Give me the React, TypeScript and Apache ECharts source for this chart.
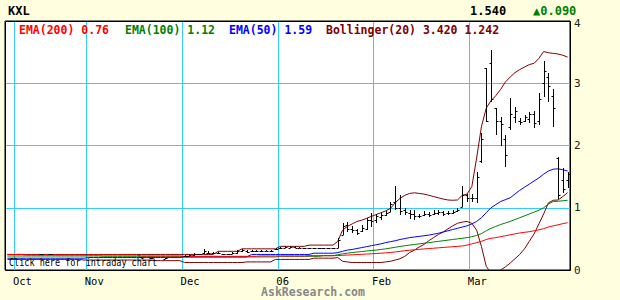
import React, { useEffect, useRef } from "react";
import * as echarts from "echarts";

const N = 118;
const days: string[] = Array.from({ length: N }, (_, i) => String(i));
const monthStarts = [2, 17, 37, 57, 77, 97];
const monthNames = ["Oct", "Nov", "Dec", "06", "Feb", "Mar"];
const yTicks = [0, 1, 2, 3, 4];

const ema200 = [
  0.25,0.25,0.25,0.25,0.24,0.24,0.24,0.24,0.24,0.24,
  0.24,0.24,0.24,0.24,0.24,0.24,0.24,0.24,0.24,0.24,
  0.24,0.24,0.24,0.24,0.24,0.24,0.24,0.24,0.225,0.225,
  0.225,0.225,0.225,0.225,0.225,0.225,0.225,0.22,0.22,0.22,
  0.22,0.22,0.22,0.22,0.22,0.22,0.22,0.22,0.22,0.22,
  0.22,0.22,0.22,0.225,0.225,0.225,0.225,0.225,0.225,0.225,
  0.225,0.225,0.225,0.23,0.23,0.23,0.23,0.23,0.23,0.232,
  0.236,0.24,0.244,0.248,0.252,0.256,0.26,0.265,0.27,0.276,
  0.282,0.29,0.3,0.31,0.318,0.325,0.332,0.338,0.345,0.35,
  0.356,0.362,0.368,0.374,0.38,0.386,0.4,0.42,0.44,0.46,
  0.49,0.51,0.52,0.535,0.55,0.565,0.58,0.595,0.605,0.615,
  0.63,0.645,0.665,0.69,0.71,0.725,0.745,0.76,
];

const ema100 = [
  0.225,0.225,0.225,0.225,0.225,0.225,0.225,0.225,0.225,0.225,
  0.225,0.225,0.225,0.225,0.225,0.225,0.225,0.225,0.225,0.225,
  0.22,0.22,0.22,0.22,0.22,0.22,0.22,0.22,0.22,0.22,
  0.22,0.22,0.22,0.22,0.22,0.22,0.22,0.21,0.21,0.21,
  0.21,0.21,0.21,0.21,0.21,0.21,0.21,0.21,0.21,0.21,
  0.21,0.21,0.21,0.21,0.21,0.21,0.21,0.22,0.22,0.22,
  0.22,0.22,0.22,0.22,0.22,0.22,0.23,0.23,0.23,0.245,
  0.26,0.27,0.28,0.288,0.296,0.305,0.313,0.32,0.33,0.34,
  0.352,0.365,0.378,0.39,0.4,0.41,0.42,0.43,0.44,0.45,
  0.46,0.47,0.48,0.49,0.5,0.51,0.52,0.535,0.555,0.585,
  0.63,0.67,0.7,0.73,0.755,0.78,0.81,0.84,0.87,0.9,
  0.93,0.96,1.0,1.06,1.1,1.105,1.112,1.12,
];

const ema50 = [
  0.19,0.19,0.19,0.19,0.19,0.19,0.19,0.19,0.19,0.19,
  0.19,0.19,0.19,0.19,0.19,0.19,0.19,0.2,0.2,0.2,
  0.2,0.2,0.2,0.2,0.2,0.2,0.2,0.2,0.2,0.2,
  0.2,0.2,0.2,0.2,0.2,0.2,0.2,0.21,0.21,0.21,
  0.21,0.21,0.21,0.21,0.21,0.21,0.21,0.21,0.21,0.21,
  0.21,0.25,0.25,0.25,0.25,0.25,0.25,0.25,0.25,0.25,
  0.25,0.25,0.25,0.25,0.27,0.27,0.27,0.27,0.27,0.28,
  0.3,0.32,0.33,0.345,0.36,0.375,0.39,0.405,0.42,0.44,
  0.455,0.47,0.49,0.505,0.52,0.53,0.54,0.55,0.56,0.575,
  0.59,0.61,0.63,0.65,0.67,0.69,0.71,0.74,0.78,0.84,
  0.92,1.0,1.05,1.1,1.13,1.16,1.22,1.28,1.33,1.38,
  1.43,1.48,1.54,1.59,1.62,1.625,1.61,1.59,
];

const bbUpper = [
  0.25,0.25,0.25,0.25,0.25,0.25,0.25,0.25,0.25,0.25,
  0.25,0.25,0.25,0.25,0.25,0.25,0.25,0.25,0.25,0.25,
  0.25,0.25,0.25,0.25,0.25,0.25,0.25,0.25,0.25,0.25,
  0.25,0.25,0.25,0.25,0.25,0.25,0.25,0.25,0.25,0.25,
  0.25,0.25,0.25,0.25,0.3,0.3,0.3,0.3,0.3,0.34,
  0.34,0.34,0.34,0.34,0.34,0.34,0.34,0.38,0.38,0.38,
  0.38,0.38,0.38,0.4,0.4,0.4,0.4,0.4,0.4,0.46,
  0.64,0.7,0.74,0.78,0.8,0.83,0.86,0.89,0.92,0.95,
  0.99,1.08,1.15,1.2,1.23,1.24,1.23,1.22,1.2,1.18,
  1.16,1.14,1.125,1.12,1.125,1.2,1.22,1.34,1.8,2.3,
  2.6,2.72,2.8,2.9,3.02,3.1,3.17,3.22,3.26,3.3,
  3.32,3.4,3.51,3.49,3.48,3.47,3.45,3.42,
];

const bbLower = [
  0.17,0.17,0.17,0.17,0.17,0.17,0.17,0.17,0.17,0.17,
  0.17,0.17,0.17,0.17,0.17,0.17,0.16,0.16,0.16,0.16,
  0.16,0.16,0.16,0.16,0.16,0.16,0.16,0.16,0.16,0.16,
  0.16,0.15,0.15,0.15,0.15,0.15,0.15,0.12,0.12,0.12,
  0.12,0.12,0.12,0.12,0.12,0.12,0.12,0.12,0.12,0.12,
  0.13,0.13,0.13,0.13,0.13,0.13,0.17,0.17,0.17,0.17,
  0.17,0.17,0.17,0.17,0.19,0.19,0.19,0.19,0.19,0.2,
  0.14,0.13,0.12,0.12,0.12,0.12,0.12,0.12,0.12,0.13,
  0.14,0.16,0.18,0.22,0.28,0.32,0.37,0.41,0.47,0.52,
  0.57,0.61,0.66,0.71,0.75,0.77,0.78,0.75,0.64,0.38,
  0.06,-0.05,-0.03,0.0,0.05,0.11,0.18,0.25,0.34,0.46,
  0.58,0.74,0.9,1.08,1.12,1.125,1.18,1.242,
];

const _ = null;
const barOpen = [
  _,_,_,_,_,_,_,0.25,_,0.25,
  _,_,_,_,_,_,_,_,_,_,
  _,_,_,_,_,_,_,_,0.21,_,
  0.2,_,_,0.18,_,_,_,0.22,0.23,0.24,
  0.25,0.27,0.28,0.27,0.28,0.26,0.25,0.26,0.28,0.31,
  0.3,0.3,0.31,0.3,0.31,0.31,0.33,0.35,0.36,0.36,
  0.37,0.36,0.36,0.35,0.35,0.35,0.35,0.35,0.35,0.36,
  0.56,0.72,0.66,0.64,0.62,0.66,0.8,0.8,0.85,0.88,
  0.93,1.1,1.0,0.96,0.92,0.9,0.86,0.88,0.9,0.9,
  0.92,0.93,0.91,0.92,0.94,1.01,1.2,1.16,1.15,1.75,
  3.25,3.33,2.6,2.4,2.1,2.3,2.45,2.4,2.4,2.42,
  2.5,2.4,3.0,3.1,2.8,1.8,1.45,1.45,
];
const barHigh = [
  _,_,_,_,_,_,_,0.26,_,0.26,
  _,_,_,_,_,_,_,_,_,_,
  _,_,_,_,_,_,_,_,0.21,_,
  0.2,_,_,0.19,_,_,_,0.24,0.25,0.28,
  0.26,0.33,0.3,0.29,0.29,0.26,0.26,0.29,0.32,0.34,
  0.32,0.32,0.32,0.32,0.32,0.32,0.35,0.37,0.38,0.39,
  0.38,0.37,0.36,0.36,0.36,0.36,0.36,0.36,0.36,0.51,
  0.75,0.77,0.7,0.66,0.72,0.83,0.92,0.9,0.92,0.95,
  1.09,1.35,1.2,1.0,0.97,0.96,0.9,0.95,0.93,0.96,
  0.97,0.95,0.95,0.96,0.99,1.35,1.22,1.22,1.58,2.2,
  3.25,3.54,2.6,2.46,2.17,2.76,2.62,2.44,2.49,2.54,
  2.55,2.85,3.36,3.17,2.9,1.82,1.64,1.58,
];
const barLow = [
  _,_,_,_,_,_,_,0.25,_,0.25,
  _,_,_,_,_,_,_,_,_,_,
  _,_,_,_,_,_,_,_,0.2,_,
  0.19,_,_,0.18,_,_,_,0.22,0.225,0.23,
  0.245,0.26,0.26,0.26,0.26,0.245,0.245,0.25,0.26,0.29,
  0.27,0.29,0.29,0.29,0.3,0.29,0.32,0.34,0.35,0.35,
  0.35,0.35,0.35,0.35,0.35,0.35,0.35,0.35,0.35,0.35,
  0.56,0.61,0.6,0.57,0.61,0.64,0.69,0.75,0.8,0.86,
  0.93,0.96,0.88,0.88,0.82,0.8,0.83,0.86,0.85,0.88,
  0.89,0.87,0.88,0.9,0.93,1.01,1.09,1.1,1.08,1.72,
  2.38,2.7,2.17,2.0,1.65,2.25,2.36,2.33,2.38,2.36,
  2.28,2.33,2.78,2.7,2.3,1.14,1.24,1.32,
];
const barClose = [
  _,_,_,_,_,_,_,0.26,_,0.25,
  _,_,_,_,_,_,_,_,_,_,
  _,_,_,_,_,_,_,_,0.2,_,
  0.2,_,_,0.19,_,_,_,0.23,0.24,0.26,
  0.25,0.31,0.28,0.28,0.27,0.25,0.255,0.27,0.3,0.32,
  0.29,0.31,0.3,0.31,0.31,0.3,0.34,0.36,0.37,0.37,
  0.36,0.36,0.36,0.35,0.35,0.36,0.35,0.35,0.36,0.48,
  0.7,0.66,0.65,0.6,0.68,0.8,0.78,0.86,0.88,0.92,
  1.06,1.0,0.95,0.93,0.9,0.86,0.87,0.9,0.88,0.92,
  0.93,0.9,0.92,0.93,0.96,1.2,1.15,1.15,1.5,2.1,
  2.4,2.75,2.4,2.35,1.85,2.5,2.55,2.38,2.45,2.5,
  2.36,2.75,3.2,2.95,2.6,1.2,1.3,1.54,
];

const MONO = "'DejaVu Sans Mono', 'Liberation Mono', monospace";

export default function App() {
  const ref = useRef<HTMLDivElement>(null);
  useEffect(() => {
    if (!ref.current) return;
    const chart = echarts.init(ref.current, undefined, { renderer: "svg" });
    const bars: any[] = [];
    for (let i = 0; i < N; i++) {
      if (barHigh[i] != null) bars.push([i, barOpen[i], barHigh[i], barLow[i], barClose[i]]);
    }
    const isMonth = (idx: number) => monthStarts.includes(idx);
    const lineS = (name: string, data: number[], color: string) => ({
      name,
      type: "line",
      data,
      showSymbol: false,
      symbol: "none",
      lineStyle: { color, width: 1 },
      itemStyle: { color },
      silent: true,
      z: 2,
    });
    const legendItems = [
      { x: 19, text: "EMA(200) 0.76", color: "#ff0000" },
      { x: 125, text: "EMA(100) 1.12", color: "#008000" },
      { x: 229, text: "EMA(50) 1.59", color: "#0000ff" },
      { x: 326, text: "Bollinger(20) 3.420 1.242", color: "#800000" },
    ];
    chart.setOption({
      animation: false,
      backgroundColor: "#ffffe0",
      grid: {
        left: 5,
        right: 50,
        top: 21,
        bottom: 30,
        show: true,
        backgroundColor: "#ffffff",
        borderColor: "#000000",
        borderWidth: 1,
      },
      xAxis: {
        type: "category",
        data: days,
        boundaryGap: true,
        axisLine: { show: false },
        axisTick: { show: false },
        axisLabel: {
          interval: (idx: number) => isMonth(idx),
          formatter: (v: string) => {
            const k = monthStarts.indexOf(Number(v));
            return k >= 0 ? monthNames[k] : "";
          },
          align: "left",
          margin: 5,
          padding: [0, 0, 0, -4],
          color: "#000",
          fontFamily: MONO,
          fontSize: 10.5,
        },
        splitLine: {
          show: true,
          interval: (idx: number) => isMonth(idx),
          lineStyle: { color: "#33ccff", width: 1 },
        },
      },
      yAxis: {
        type: "value",
        position: "right",
        min: yTicks[0],
        max: yTicks[yTicks.length - 1],
        interval: 1,
        axisLine: { show: false },
        axisTick: { show: false },
        axisLabel: {
          margin: 4,
          color: "#222",
          fontFamily: MONO,
          fontSize: 11,
          formatter: (v: number) => (v === yTicks[yTicks.length - 1] ? `{top|${v}}` : String(v)),
          rich: { top: { padding: [4, 0, 0, 0], fontFamily: MONO, fontSize: 11, color: "#222" } },
        },
        splitLine: { show: true, lineStyle: { color: "#33ccff", width: 1 } },
      },
      series: [
        lineS("BB upper", bbUpper, "#800000"),
        lineS("BB lower", bbLower, "#800000"),
        lineS("EMA(100)", ema100, "#008000"),
        lineS("EMA(50)", ema50, "#0000ff"),
        lineS("EMA(200)", ema200, "#ff0000"),
        {
          type: "custom",
          name: "price",
          data: bars,
          encode: { x: 0, y: [1, 2, 3, 4] },
          z: 3,
          silent: true,
          renderItem: (params: any, api: any) => {
            const i = api.value(0);
            const pH = api.coord([i, api.value(2)]);
            const pL = api.coord([i, api.value(3)]);
            const pO = api.coord([i, api.value(1)]);
            const pC = api.coord([i, api.value(4)]);
            const x = Math.round(pH[0]) + 0.5;
            const st = { stroke: "#000", lineWidth: 1 };
            const yH = Math.round(pH[1]);
            let yL = Math.round(pL[1]);
            if (yL - yH < 1) yL = yH + 1;
            return {
              type: "group",
              children: [
                { type: "line", shape: { x1: x, y1: yH, x2: x, y2: yL }, style: st },
                { type: "line", shape: { x1: x - 2, y1: Math.round(pO[1]) + 0.5, x2: x, y2: Math.round(pO[1]) + 0.5 }, style: st },
                { type: "line", shape: { x1: x, y1: Math.round(pC[1]) + 0.5, x2: x + 2, y2: Math.round(pC[1]) + 0.5 }, style: st },
              ],
            };
          },
        },
      ],
      graphic: [
        {
          type: "rect",
          shape: { x: 5.5, y: 21.5, width: 565, height: 249 },
          style: { fill: "none", stroke: "#000", lineWidth: 1 },
          z: 50,
          silent: true,
        },
        {
          type: "text",
          x: 8,
          y: 11,
          style: { text: "KXL", fill: "#000", font: `bold 12px ${MONO}`, verticalAlign: "middle" },
          z: 60,
        },
        {
          type: "text",
          x: 470,
          y: 11,
          style: { text: "1.540", fill: "#000", font: `bold 12px ${MONO}`, verticalAlign: "middle" },
          z: 60,
        },
        {
          type: "text",
          x: 533,
          y: 11,
          style: { text: "▲0.090", fill: "#008000", font: `bold 12px ${MONO}`, verticalAlign: "middle" },
          z: 60,
        },
        ...legendItems.map((it) => ({
          type: "text",
          x: it.x,
          y: 30,
          style: { text: it.text, fill: it.color, font: `bold 11.5px ${MONO}`, verticalAlign: "middle" },
          z: 60,
        })),
        {
          type: "text",
          x: 9,
          y: 262,
          scaleX: 0.85,
          style: { text: "Click here for intraday chart", fill: "#000", font: `10px ${MONO}`, verticalAlign: "middle" },
          z: 60,
        },
        {
          type: "text",
          x: 313,
          y: 292,
          style: { text: "AskResearch.com", fill: "#888888", font: `bold 11.5px ${MONO}`, align: "center", verticalAlign: "middle" },
          z: 60,
        },
      ],
    });
    return () => chart.dispose();
  }, []);
  return (
    <div
      ref={ref}
      style={{ position: "fixed", left: 0, top: 0, width: 620, height: 300, background: "#ffffe0" }}
    />
  );
}
